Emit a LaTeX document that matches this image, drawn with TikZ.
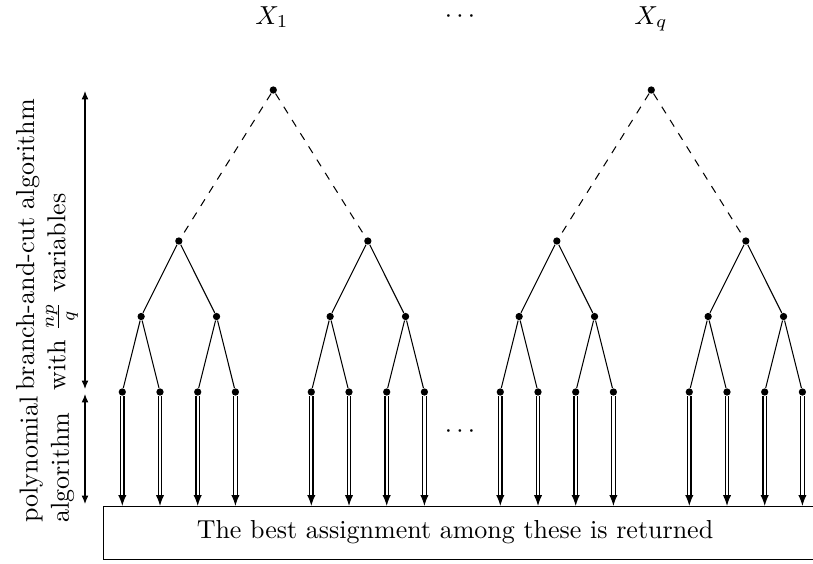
\documentclass[tikz,border=0pt]{standalone}
\usetikzlibrary{arrows.meta}
\begin{document}
\begin{tikzpicture}[x=0.3846pt,y=-0.3846pt,
  dot/.style={circle,fill=black,inner sep=0pt,minimum size=2.8pt},
  edge/.style={draw=black,line width=0.4pt},
  dashedge/.style={draw=black,line width=0.4pt,dashed},
  resarrow/.style={draw=black,double,double distance=0.9pt,line width=0.45pt,-{Latex[length=4.2pt,width=3.2pt]}},
  span/.style={draw=black,line width=0.4pt,{Latex[length=3.2pt,width=2.6pt]}-{Latex[length=3.2pt,width=2.6pt]}},
  vlabel/.style={rotate=90,align=left,anchor=west,inner sep=0pt}]
\useasboundingbox (0,0) rectangle (813,563);
% headers
\node[anchor=base] (h1) at (272,24) {$X_1$};
\node[anchor=base,inner sep=0.5pt] (hd) at (460,22.5) {$\cdots$};
\node[anchor=base] (hq) at (651,24) {$X_q$};
% result box
\node[draw,line width=0.4pt,inner sep=0pt,minimum width=285pt,minimum height=20.4pt,anchor=north west] (box) at (103,506) {};
\node (txt) at (455,532.5) {The best assignment among these is returned};
% trees
\foreach \t/\tx in {0/0,1/189,2/378,3/567}{
  \foreach \j in {0,1,2,3}{
    \node[dot] (l\t\j) at ({122.3+\tx+37.7*\j},392) {};
  }
  \node[dot] (m\t0) at ({141.15+\tx},316.5) {};
  \node[dot] (m\t1) at ({216.55+\tx},316.5) {};
  \node[dot] (n\t) at ({178.85+\tx},241) {};
  \draw[edge] (n\t) -- (m\t0);
  \draw[edge] (n\t) -- (m\t1);
  \draw[edge] (m\t0) -- (l\t0);
  \draw[edge] (m\t0) -- (l\t1);
  \draw[edge] (m\t1) -- (l\t2);
  \draw[edge] (m\t1) -- (l\t3);
  \foreach \j in {0,1,2,3}{
    \draw[resarrow] (l\t\j) -- (l\t\j |- box.north);
  }
}
\node[dot] (r0) at (273.3,90) {};
\node[dot] (r1) at (651.3,90) {};
\draw[dashedge] (r0) -- (n0);
\draw[dashedge] (r0) -- (n1);
\draw[dashedge] (r1) -- (n2);
\draw[dashedge] (r1) -- (n3);
\node[anchor=base] (md) at (460,437.5) {$\cdots$};
% left spans
\coordinate (s0) at (85,91);
\coordinate (s1) at (85,389);
\coordinate (s2) at (85,394);
\coordinate (s3) at (85,504);
\draw[span] (s0) -- (s1);
\draw[span] (s2) -- (s3);
\node[vlabel] (lab1) at (47,391) {branch-and-cut algorithm\\with $\frac{np}{q}$ variables};
\node[vlabel] (lab2) at (47,523) {polynomial\\algorithm};
\end{tikzpicture}
\end{document}
